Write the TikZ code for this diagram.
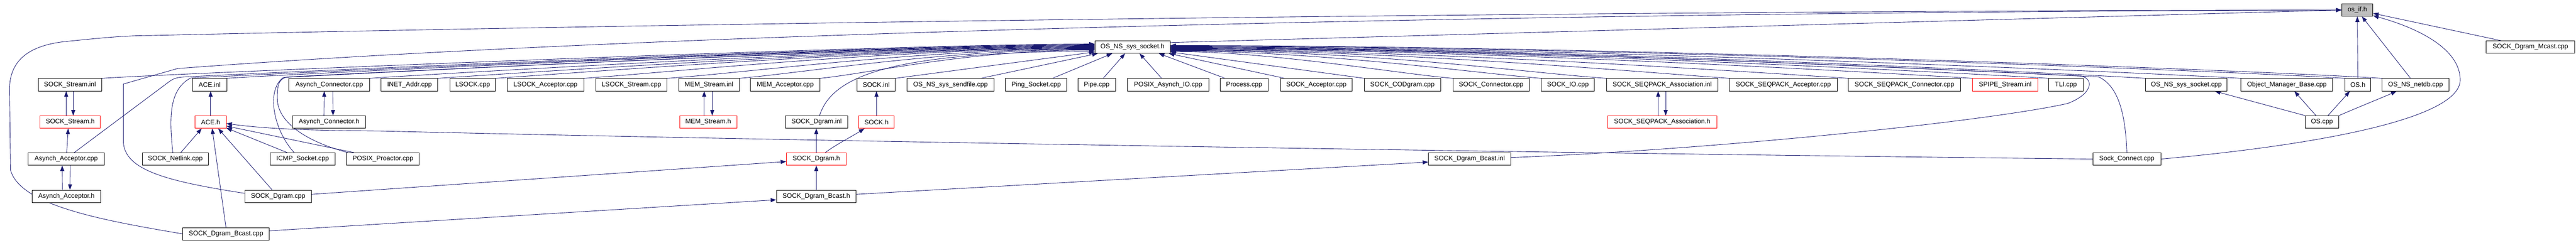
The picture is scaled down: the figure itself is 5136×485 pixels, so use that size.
\documentclass[tikz,border=0pt]{standalone}
\usepackage{fontspec}
\setmainfont{Liberation Sans}
\usetikzlibrary{arrows.meta,calc,backgrounds}
\definecolor{edgeblue}{HTML}{191970}
\definecolor{boxgray}{HTML}{BFBFBF}
\begin{document}
\begin{tikzpicture}[x=1pt,y=-1pt,
  box/.style={draw=black,line width=0.9pt,fill=white,minimum height=25pt,inner sep=0pt,font=\fontsize{13.1pt}{15pt}\selectfont},
  redbox/.style={box,draw=red},
  graybox/.style={box,fill=boxgray},
  edge/.style={draw=edgeblue,line width=0.9pt,-{Triangle[length=11pt,width=8pt]}}]
\useasboundingbox (0,0) rectangle (5136,485);
% row 0
\node[graybox,minimum width=62pt] (osif) at (4700,20) {os\_if.h};
% row 1
\node[box,minimum width=150pt] (nssock) at (2258,94) {OS\_NS\_sys\_socket.h};
\node[box,minimum width=176pt] (mcast) at (5045,94) {SOCK\_Dgram\_Mcast.cpp};
% row 2
\node[box,minimum width=127pt] (sstreaminl) at (139.5,169.5) {SOCK\_Stream.inl};
\node[box,minimum width=68pt] (aceinl) at (418,169.5) {ACE.inl};
\node[box,minimum width=161pt] (aconcpp) at (656.5,169.5) {Asynch\_Connector.cpp};
\node[box,minimum width=113pt] (inet) at (816.5,169.5) {INET\_Addr.cpp};
\node[box,minimum width=91pt] (lsock) at (942.5,169.5) {LSOCK.cpp};
\node[box,minimum width=153pt] (lsockacc) at (1087.5,169.5) {LSOCK\_Acceptor.cpp};
\node[box,minimum width=142pt] (lsockstr) at (1259,169.5) {LSOCK\_Stream.cpp};
\node[box,minimum width=121pt] (memstrinl) at (1413.5,169.5) {MEM\_Stream.inl};
\node[box,minimum width=139pt] (memacc) at (1565.5,169.5) {MEM\_Acceptor.cpp};
\node[box,minimum width=76pt] (sockinl) at (1747,169.5) {SOCK.inl};
\node[box,minimum width=174pt] (sendfile) at (1895,169.5) {OS\_NS\_sys\_sendfile.cpp};
\node[box,minimum width=122pt] (ping) at (2066,169.5) {Ping\_Socket.cpp};
\node[box,minimum width=75pt] (pipe) at (2186.5,169.5) {Pipe.cpp};
\node[box,minimum width=162pt] (posixaio) at (2329,169.5) {POSIX\_Asynch\_IO.cpp};
\node[box,minimum width=95pt] (process) at (2480.5,169.5) {Process.cpp};
\node[box,minimum width=143pt] (sockacc) at (2624.5,169.5) {SOCK\_Acceptor.cpp};
\node[box,minimum width=152pt] (codgram) at (2796,169.5) {SOCK\_CODgram.cpp};
\node[box,minimum width=152pt] (sockcon) at (2973,169.5) {SOCK\_Connector.cpp};
\node[box,minimum width=106pt] (sockio) at (3126,169.5) {SOCK\_IO.cpp};
\node[box,minimum width=222pt] (seqassinl) at (3314,169.5) {SOCK\_SEQPACK\_Association.inl};
\node[box,minimum width=215pt] (seqacc) at (3555.5,169.5) {SOCK\_SEQPACK\_Acceptor.cpp};
\node[box,minimum width=224pt] (seqcon) at (3797,169.5) {SOCK\_SEQPACK\_Connector.cpp};
\node[redbox,minimum width=130pt] (spipe) at (3998,169.5) {SPIPE\_Stream.inl};
\node[box,minimum width=68pt] (tli) at (4119,169.5) {TLI.cpp};
\node[box,minimum width=162pt] (nssockcpp) at (4359,169.5) {OS\_NS\_sys\_socket.cpp};
\node[box,minimum width=183pt] (omb) at (4559.5,169.5) {Object\_Manager\_Base.cpp};
\node[box,minimum width=52pt] (osh) at (4701,169.5) {OS.h};
\node[box,minimum width=134pt] (netdb) at (4816,169.5) {OS\_NS\_netdb.cpp};
% row 3
\node[redbox,minimum width=120pt] (sstreamh) at (140,244) {SOCK\_Stream.h};
\node[redbox,minimum width=62pt] (aceh) at (420,244) {ACE.h};
\node[box,minimum width=146pt] (aconh) at (656,244) {Asynch\_Connector.h};
\node[redbox,minimum width=114pt] (memstrh) at (1412,244) {MEM\_Stream.h};
\node[box,minimum width=124pt] (dgraminl) at (1628,244) {SOCK\_Dgram.inl};
\node[redbox,minimum width=71pt] (sockh) at (1747.5,244) {SOCK.h};
\node[redbox,minimum width=218pt] (seqassh) at (3314,244) {SOCK\_SEQPACK\_Association.h};
\node[box,minimum width=67pt] (oscpp) at (4629.5,244) {OS.cpp};
% row 4
\node[box,minimum width=152pt] (aacccpp) at (132,318) {Asynch\_Acceptor.cpp};
\node[box,minimum width=131pt] (netlink) at (349.5,318) {SOCK\_Netlink.cpp};
\node[box,minimum width=129pt] (icmp) at (603.5,318) {ICMP\_Socket.cpp};
\node[box,minimum width=145pt] (posixpro) at (763.5,318) {POSIX\_Proactor.cpp};
\node[redbox,minimum width=119pt] (dgramh) at (1627.5,318) {SOCK\_Dgram.h};
\node[box,minimum width=164pt] (bcastinl) at (2930,318) {SOCK\_Dgram\_Bcast.inl};
\node[box,minimum width=135pt] (sockconnect) at (4240.5,318) {Sock\_Connect.cpp};
% row 5
\node[box,minimum width=137pt] (aacch) at (132.5,392.5) {Asynch\_Acceptor.h};
\node[box,minimum width=133pt] (dgramcpp) at (554.5,392.5) {SOCK\_Dgram.cpp};
\node[box,minimum width=159pt] (bcasth) at (1627.5,392.5) {SOCK\_Dgram\_Bcast.h};
% row 6
\node[box,minimum width=173pt] (bcastcpp) at (450.5,467.5) {SOCK\_Dgram\_Bcast.cpp};

\begin{pgfonlayer}{background}
\fill[white] (0,0) rectangle (5136,485);
% ---- into os_if.h
\draw[edge] ($(nssock.north east)+(0,4)$) -- (osif.west);
\draw[edge] (bcastcpp.west) .. controls (200,440) and (40,410) .. (21,340) -- (19,175) .. controls (21,115) and (65,88) .. (141,82) .. controls (200,76) and (250,71) .. (300,71) .. controls (1200,50) and (3000,22) .. (osif.west);
\draw[edge] ($(dgramcpp.west)+(0,-6)$) .. controls (330,362) and (250,340) .. (246,285) -- (246,168) -- (354,137) .. controls (1300,65) and (3000,25) .. (osif.west);
\draw[edge] (sockconnect.east) .. controls (4600,292) and (4905,240) .. (4905,160) .. controls (4905,90) and (4800,50) .. (osif.-20);
\draw[edge] ($(mcast.north west)+(29,0)$) -- (osif.-12);
\draw[edge] (osh.north) -- (osif.south);
\draw[edge] ($(netdb.north)+(-10,0)$) -- (osif.-55);
% ---- into OS_NS_sys_socket.h from the left
\draw[edge] (sstreaminl.north east) .. controls +(150,-10) and +(-400,0) .. ($(nssock.west)+(0,-6)$);
\draw[edge] ($(aacccpp.north)+(16,0)$) -- (335,165) .. controls (345,157) and (352,155) .. (365,154) .. controls +(150,-8) and +(-400,0) .. ($(nssock.west)+(0,-5)$);
\draw[edge] ($(netlink.north)+(-5,0)$) .. controls (338,240) and (335,180) .. (380,156) .. controls +(150,-8) and +(-400,0) .. ($(nssock.west)+(0,-4)$);
\draw[edge] (aceinl.north east) .. controls +(150,-10) and +(-400,0) .. ($(nssock.west)+(0,-3)$);
\draw[edge] ($(icmp.north)+(-17,0)$) .. controls (545,260) and (530,180) .. (565,155) .. controls +(150,-8) and +(-400,0) .. ($(nssock.west)+(0,-2)$);
\draw[edge] ($(posixpro.north west)+(3,0)$) .. controls (600,280) and (555,240) .. (553,200) .. controls (552,170) and (556,158) .. (572,154) .. controls +(150,-8) and +(-400,0) .. ($(nssock.west)+(0,-1)$);
\draw[edge] (aconcpp.north east) .. controls +(150,-10) and +(-400,0) .. (nssock.west);
\draw[edge] (inet.north east) .. controls +(150,-10) and +(-400,0) .. ($(nssock.west)+(0,1)$);
\draw[edge] (lsock.north east) .. controls +(150,-10) and +(-400,0) .. ($(nssock.west)+(0,2)$);
\draw[edge] (lsockacc.north east) .. controls +(150,-10) and +(-400,0) .. ($(nssock.west)+(0,3)$);
\draw[edge] (lsockstr.north east) .. controls +(150,-10) and +(-350,0) .. ($(nssock.west)+(0,4)$);
\draw[edge] (memstrinl.north east) .. controls +(120,-10) and +(-300,0) .. ($(nssock.west)+(0,5)$);
\draw[edge] (memacc.north east) .. controls +(100,-10) and +(-250,0) .. ($(nssock.west)+(0,6)$);
\draw[edge] ($(dgraminl.north)+(6,0)$) .. controls (1660,150) and (1780,105) .. ($(nssock.west)+(0,8)$);
\draw[edge] (sockinl.north east) -- ($(nssock.west)+(0,10)$);
\draw[edge] ($(sendfile.north east)+(-27,0)$) -- ($(nssock.south west)+(6,0)$);
\draw[edge] ($(ping.north east)+(-29,0)$) -- ($(nssock.south west)+(35,0)$);
\draw[edge] ($(pipe.north)+(13,0)$) -- ($(nssock.south)+(-15,0)$);
\draw[edge] ($(posixaio.north)+(-13,0)$) -- ($(nssock.south)+(14,0)$);
\draw[edge] ($(process.north)+(-38,0)$) -- ($(nssock.south east)+(-23,0)$);
\draw[edge] ($(sockacc.north west)+(9,0)$) -- ($(nssock.south east)+(-3,0)$);
% ---- into OS_NS_sys_socket.h from the right
\draw[edge] (codgram.north west) -- ($(nssock.east)+(0,10)$);
\draw[edge] (sockcon.north west) .. controls +(-100,-8) and +(200,0) .. ($(nssock.east)+(0,9)$);
\draw[edge] (sockio.north west) .. controls +(-120,-9) and +(300,0) .. ($(nssock.east)+(0,8)$);
\draw[edge] (seqassinl.north west) .. controls +(-150,-10) and +(400,0) .. ($(nssock.east)+(0,7)$);
\draw[edge] (seqacc.north west) .. controls +(-150,-10) and +(450,0) .. ($(nssock.east)+(0,6)$);
\draw[edge] (seqcon.north west) .. controls +(-170,-11) and +(500,0) .. ($(nssock.east)+(0,5)$);
\draw[edge] (spipe.north west) .. controls +(-200,-12) and +(600,0) .. ($(nssock.east)+(0,4)$);
\draw[edge] (tli.north west) .. controls +(-200,-12) and +(650,0) .. ($(nssock.east)+(0,3)$);
\draw[edge] ($(bcastinl.east)+(0,-3)$) .. controls (3400,300) and (3950,245) .. (4122,207) .. controls (4168,190) and (4178,160) .. (4150,152) .. controls +(-200,-10) and +(650,0) .. ($(nssock.east)+(0,2)$);
\draw[edge] (sockconnect.north) .. controls (4238,240) and (4228,175) .. (4185,154) .. controls +(-200,-10) and +(650,0) .. ($(nssock.east)+(0,1)$);
\draw[edge] (nssockcpp.north west) .. controls +(-200,-12) and +(700,0) .. (nssock.east);
\draw[edge] (omb.north west) .. controls +(-250,-14) and +(750,0) .. ($(nssock.east)+(0,-1)$);
\draw[edge] (osh.north west) .. controls +(-300,-18) and +(800,0) .. ($(nssock.east)+(0,-2)$);
\draw[edge] (netdb.north west) .. controls +(-300,-18) and +(850,0) .. ($(nssock.east)+(0,-3)$);
% ---- ACE.h
\draw[edge] (aceh.north) -- (aceh.north |- aceinl.south);
\draw[edge] ($(netlink.north)+(11,0)$) -- ($(aceh.south)+(-18,0)$);
\draw[edge] (bcastcpp.north) -- ($(aceh.south)+(3,0)$);
\draw[edge] ($(dgramcpp.north)+(-12,0)$) -- ($(aceh.south)+(15,0)$);
\draw[edge] ($(icmp.north)+(-31,0)$) -- ($(aceh.south east)+(0,-1)$);
\draw[edge] ($(posixpro.north west)+(15,0)$) -- ($(aceh.east)+(0,8)$);
\draw[edge] (sockconnect.west) .. controls (3000,305) and (1500,280) .. (760,262) .. controls (640,261) and (540,259) .. ($(aceh.east)+(0,3)$);
% ---- pairs .h <-> .inl / .cpp
\draw[edge] ($(sstreamh.north)+(-8,0)$) -- ($(sstreaminl.south)+(-7.5,0)$);
\draw[edge] ($(sstreaminl.south)+(6.5,0)$) -- ($(sstreamh.north)+(6,0)$);
\draw[edge] ($(aacccpp.north)+(1,0)$) -- ($(sstreamh.south)+(-4,0)$);
\draw[edge] ($(aacch.north)+(-8,0)$) -- ($(aacccpp.south)+(-8,0)$);
\draw[edge] ($(aacccpp.south)+(8,0)$) -- ($(aacch.north)+(7,0)$);
\draw[edge] ($(aconh.north)+(-10,0)$) -- ($(aconcpp.south)+(-10,0)$);
\draw[edge] ($(aconcpp.south)+(7,0)$) -- ($(aconh.north)+(8,0)$);
\draw[edge] ($(memstrh.north)+(-8,0)$) -- ($(memstrinl.south)+(-9.5,0)$);
\draw[edge] ($(memstrinl.south)+(6.5,0)$) -- ($(memstrh.north)+(8,0)$);
\draw[edge] ($(seqassh.north)+(-8,0)$) -- ($(seqassinl.south)+(-8,0)$);
\draw[edge] ($(seqassinl.south)+(7,0)$) -- ($(seqassh.north)+(7,0)$);
% ---- SOCK_Dgram family
\draw[edge] (dgramh.north) -- (dgramh.north |- dgraminl.south);
\draw[edge] ($(dgramh.north)+(18,0)$) .. controls (1665,290) and (1700,272) .. ($(sockh.south)+(-24,0)$);
\draw[edge] (sockh.north) -- (sockh.north |- sockinl.south);
\draw[edge] (bcasth.north) -- (dgramh.south);
\draw[edge] ($(dgramcpp.east)+(0,-4)$) -- ($(dgramh.west)+(0,5)$);
\draw[edge] ($(bcastcpp.east)+(0,-6)$) -- ($(bcasth.west)+(0,7)$);
\draw[edge] ($(bcasth.east)+(0,-4)$) -- ($(bcastinl.west)+(0,6)$);
% ---- OS.cpp
\draw[edge] ($(oscpp.north)+(-12,0)$) -- ($(omb.south)+(15,0)$);
\draw[edge] ($(oscpp.north)+(12,0)$) -- ($(osh.south)+(-16,0)$);
\draw[edge] (oscpp.north east) .. controls (4700,215) and (4750,195) .. ($(netdb.south)+(-38,0)$);
\draw[edge] (oscpp.north west) -- ($(nssockcpp.south)+(57,0)$);
\end{pgfonlayer}
\end{tikzpicture}
\end{document}
